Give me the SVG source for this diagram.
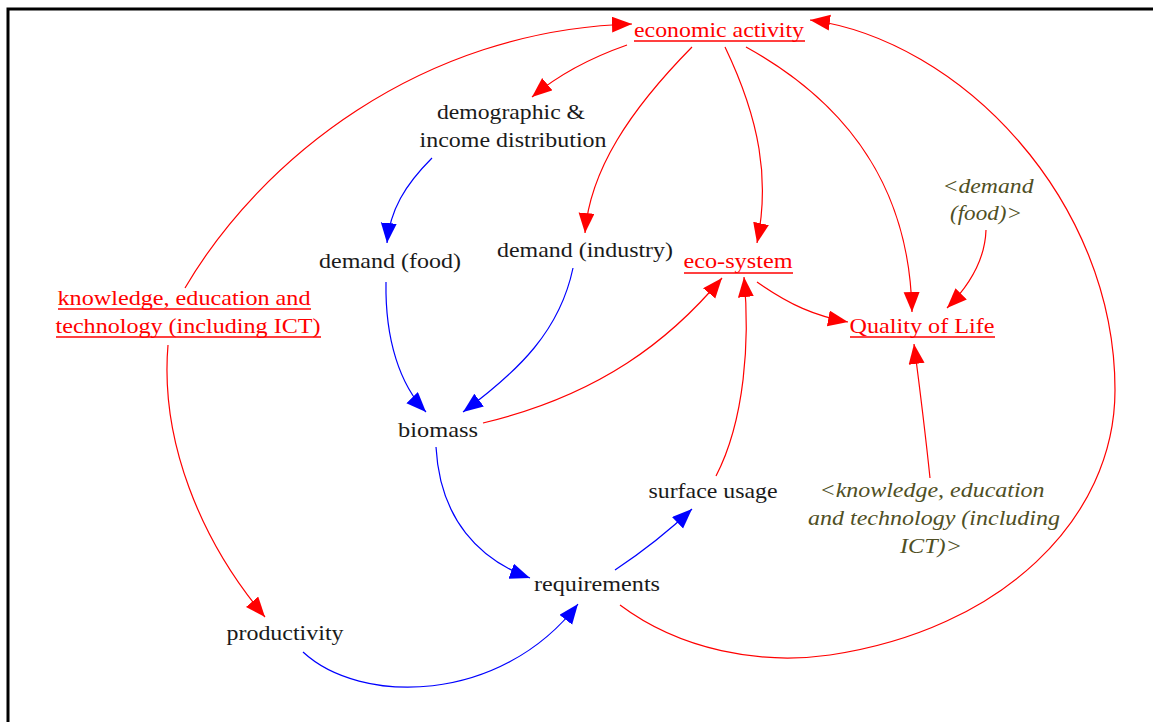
<svg xmlns="http://www.w3.org/2000/svg" width="1153" height="722" viewBox="0 0 1153 722">
  <style>
    text { font-family: "Liberation Serif", "Times New Roman", serif; font-size: 22px; text-anchor: middle; }
    .blk { fill: #1a1a1a; }
    .red { fill: #ff0000; }
    .shadow { fill: #4f4f24; font-style: italic; }
    .ul { stroke: #ff0000; stroke-width: 1.5; }
    .lr { fill: none; stroke: #ff0000; stroke-width: 1.2; marker-end: url(#ar); }
    .lb { fill: none; stroke: #0000ff; stroke-width: 1.2; marker-end: url(#ab); }
  </style>
  <defs>
    <marker id="ar" markerUnits="userSpaceOnUse" markerWidth="22" markerHeight="18" refX="20" refY="8" orient="auto">
      <path d="M0,0 L20,8 L0,16 z" fill="#ff0000"/>
    </marker>
    <marker id="ab" markerUnits="userSpaceOnUse" markerWidth="22" markerHeight="18" refX="20" refY="8" orient="auto">
      <path d="M0,0 L20,8 L0,16 z" fill="#0000ff"/>
    </marker>
  </defs>

  <rect width="1153" height="722" fill="#ffffff"/>
  <!-- frame: left and top edges only -->
  <path d="M8,722 V9 H1153" fill="none" stroke="#000000" stroke-width="3"/>

  <g id="connectors">
    <!-- red links -->
    <path class="lr" d="M185,288 C260,160 420,30 632,24"/>
    <path class="lr" d="M168,345 C160,440 200,540 265,617"/>
    <path class="lr" d="M627,45 Q570,65 532,97"/>
    <path class="lr" d="M692,47 C630,110 590,170 585,233"/>
    <path class="lr" d="M725,47 C760,120 770,180 757,243"/>
    <path class="lr" d="M746,47 C860,110 910,200 912,312"/>
    <path class="lr" d="M986,230 C985,260 970,285 947,308"/>
    <path class="lr" d="M757,282 C790,305 815,316 848,322"/>
    <path class="lr" d="M483,423 C600,395 670,340 722,278"/>
    <path class="lr" d="M716,476 C745,420 750,340 744,277"/>
    <path class="lr" d="M930,478 C925,430 920,390 914,344"/>
    <path class="lr" d="M620,605 C680,650 760,665 830,655 C1000,630 1115,520 1115,390 C1115,200 960,40 810,20"/>
    <!-- blue links -->
    <path class="lb" d="M432,158 C405,185 390,210 387,243"/>
    <path class="lb" d="M386,282 C385,340 400,385 426,412"/>
    <path class="lb" d="M573,268 C560,330 520,370 463,412"/>
    <path class="lb" d="M436,447 C440,520 480,560 530,578"/>
    <path class="lb" d="M615,570 C645,550 670,530 692,509"/>
    <path class="lb" d="M303,652 C360,705 500,705 578,604"/>
  </g>

  <g id="economic-activity">
    <text class="red" x="719" y="37" textLength="170" lengthAdjust="spacingAndGlyphs">economic activity</text>
    <line class="ul" x1="634" y1="41" x2="805" y2="41"/>
  </g>
  <g id="demographic">
    <text class="blk" x="511" y="119" textLength="148" lengthAdjust="spacingAndGlyphs">demographic &amp;</text>
    <text class="blk" x="513" y="147" textLength="187" lengthAdjust="spacingAndGlyphs">income distribution</text>
  </g>
  <g id="demand-food">
    <text class="blk" x="390" y="268" textLength="142" lengthAdjust="spacingAndGlyphs">demand (food)</text>
  </g>
  <g id="demand-industry">
    <text class="blk" x="585" y="257" textLength="176" lengthAdjust="spacingAndGlyphs">demand (industry)</text>
  </g>
  <g id="eco-system">
    <text class="red" x="738" y="268" textLength="109" lengthAdjust="spacingAndGlyphs">eco-system</text>
    <line class="ul" x1="684" y1="273" x2="793" y2="273"/>
  </g>
  <g id="quality-of-life">
    <text class="red" x="922" y="333" textLength="145" lengthAdjust="spacingAndGlyphs">Quality of Life</text>
    <line class="ul" x1="850" y1="337" x2="995" y2="337"/>
  </g>
  <g id="demand-food-shadow">
    <text class="shadow" x="988" y="193" textLength="91" lengthAdjust="spacingAndGlyphs">&lt;demand</text>
    <text class="shadow" x="986" y="220" textLength="72" lengthAdjust="spacingAndGlyphs">(food)&gt;</text>
  </g>
  <g id="knowledge">
    <text class="red" x="184" y="305" textLength="253" lengthAdjust="spacingAndGlyphs">knowledge, education and</text>
    <line class="ul" x1="58" y1="309" x2="311" y2="309"/>
    <text class="red" x="188" y="333" textLength="265" lengthAdjust="spacingAndGlyphs">technology (including ICT)</text>
    <line class="ul" x1="56" y1="337" x2="321" y2="337"/>
  </g>
  <g id="biomass">
    <text class="blk" x="438" y="437" textLength="80" lengthAdjust="spacingAndGlyphs">biomass</text>
  </g>
  <g id="surface-usage">
    <text class="blk" x="713" y="498" textLength="129" lengthAdjust="spacingAndGlyphs">surface usage</text>
  </g>
  <g id="requirements">
    <text class="blk" x="597" y="591" textLength="126" lengthAdjust="spacingAndGlyphs">requirements</text>
  </g>
  <g id="productivity">
    <text class="blk" x="285" y="640" textLength="117" lengthAdjust="spacingAndGlyphs">productivity</text>
  </g>
  <g id="knowledge-shadow">
    <text class="shadow" x="932" y="497" textLength="225" lengthAdjust="spacingAndGlyphs">&lt;knowledge, education</text>
    <text class="shadow" x="934" y="525" textLength="252" lengthAdjust="spacingAndGlyphs">and technology (including</text>
    <text class="shadow" x="931" y="553" textLength="62" lengthAdjust="spacingAndGlyphs">ICT)&gt;</text>
  </g>
</svg>
